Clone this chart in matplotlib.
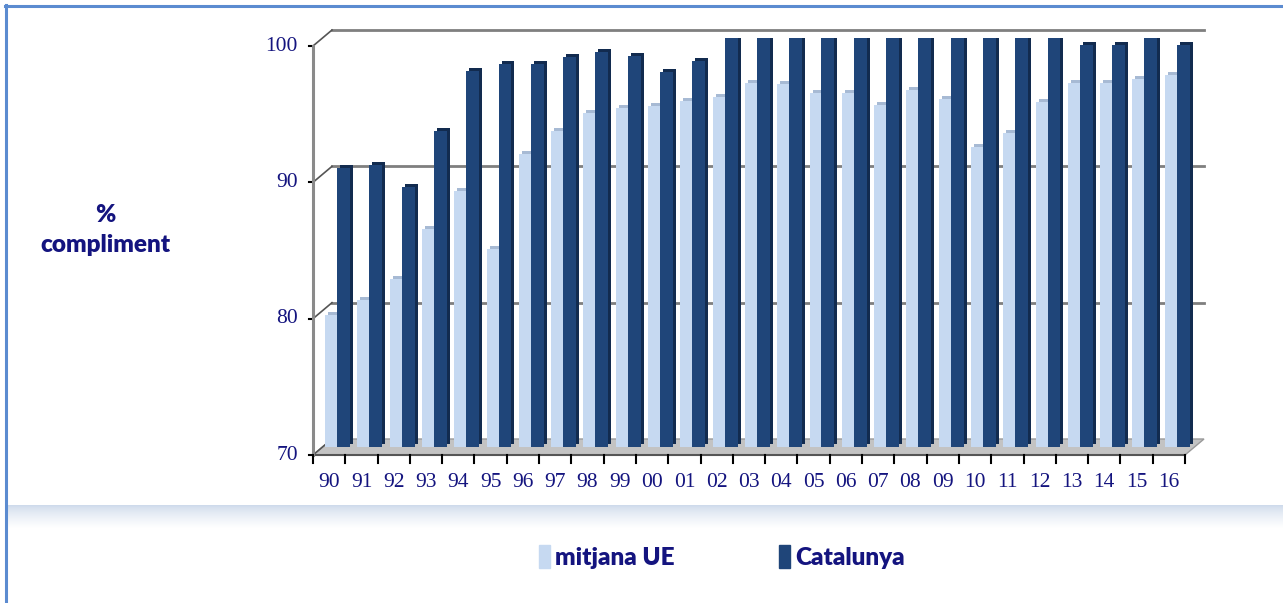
import matplotlib.pyplot as plt
import numpy as np
from matplotlib.patches import Patch, Polygon
from matplotlib.lines import Line2D

# data
years = ['90', '91', '92', '93', '94', '95', '96', '97', '98', '99', '00', '01', '02', '03',
         '04', '05', '06', '07', '08', '09', '10', '11', '12', '13', '14', '15', '16']
ue = [79.7, 80.8, 82.3, 86.0, 88.8, 84.5, 91.5, 93.2, 94.5, 94.9, 95.0, 95.4, 95.7, 96.7,
      96.6, 96.0, 96.0, 95.1, 96.2, 95.5, 92.0, 93.0, 95.3, 96.7, 96.7, 97.0, 97.3]
catalunya = [90.5, 90.7, 89.1, 93.2, 97.6, 98.1, 98.1, 98.6, 99.0, 98.7, 97.5, 98.3, 100, 100,
             100, 100, 100, 100, 100, 100, 100, 100, 100, 99.5, 99.5, 100, 99.5]
yticks = [70, 80, 90, 100]
series_names = ['mitjana UE', 'Catalunya']

light = '#c6d9f1'
light_side = '#a7bad4'
dark = '#1f4579'
dark_side = '#122b4f'
navy = '#14147f'
W, H = 1283, 603

fig = plt.figure(figsize=(W / 100, H / 100), dpi=100)

# the plane the bars stand in (pixels from top-left)
x0, x1, y0, y1 = 322.5, 1194.5, 447, 38
ax = fig.add_axes([x0 / W, 1 - y0 / H, (x1 - x0) / W, (y0 - y1) / H])
ax.set_xlim(-0.5, len(years) - 0.5)
ax.set_ylim(yticks[0], yticks[-1])
ax.set_axis_off()

ux = len(years) / (x1 - x0)
uy = (yticks[-1] - yticks[0]) / (y0 - y1)
hx, hy = 9.5 * ux, 8 * uy      # half depth of the box
dx, dy = 3 * ux, 3 * uy        # depth of a bar
xl, xr = -0.5, len(years) - 0.5
base = yticks[0]

# floor
floor = Polygon([(xl - hx, base - hy), (xr - hx, base - hy), (xr + hx, base + hy), (xl + hx, base + hy)],
                closed=True, facecolor='#c3c3c3', edgecolor='#9a9a9a', lw=1, clip_on=False, zorder=1)
ax.add_patch(floor)
ax.plot([xl - hx, xr - hx], [base - hy, base - hy], color='#555555', lw=1.5, clip_on=False, zorder=1)

# back wall grid and side wall diagonals
for v in yticks:
    if v > base:
        ax.plot([xl + hx, xr + hx], [v + hy, v + hy], color='#7f7f7f', lw=2, clip_on=False, zorder=1)
    ax.plot([xl - hx, xl + hx], [v - hy, v + hy], color='#555555', lw=1.2, clip_on=False, zorder=1)
    ax.plot([xl - hx - 4 * ux, xl - hx], [v - hy, v - hy], color='black', lw=1.5, clip_on=False, zorder=2)
    ax.text(xl - hx - 15 * ux, v - hy, str(v), ha='right', va='center', fontsize=15.5,
            family='Liberation Serif', color=navy)

# front vertical axis
ax.plot([xl - hx, xl - hx], [base - hy, yticks[-1] - hy], color='#8a8a8a', lw=2.2, clip_on=False, zorder=2)

# category ticks and labels on the front edge
for k in range(len(years) + 1):
    ax.plot([k - 0.5 - hx, k - 0.5 - hx], [base - hy, base - hy - 8 * uy], color='black', lw=1.5,
            clip_on=False, zorder=2)
for k, lab in enumerate(years):
    ax.text(k - hx, base - hy - 18 * uy, lab, ha='center', va='top', fontsize=15.5,
            family='Liberation Serif', color=navy)

# bars with a small depth
x = np.arange(len(years))
ue_h = np.array(ue) - base
cat_h = np.array(catalunya) - base
ax.bar(x - 0.22 + dx, ue_h, 0.40, bottom=base + dy, color=light_side, zorder=3)
ax.bar(x - 0.22, ue_h, 0.40, bottom=base, color=light, zorder=3)
ax.bar(x + 0.15 + dx, cat_h, 0.40, bottom=base + dy, color=dark_side, zorder=3)
ax.bar(x + 0.15, cat_h, 0.40, bottom=base, color=dark, zorder=3)

# y label
fig.text(105 / W, 1 - 230 / H, '%\ncompliment', ha='center', va='center', linespacing=1.45,
         fontsize=17.5, family='Lato', weight='heavy', color=navy)

# legend
handles = [Patch(color=light), Patch(color=dark)]
fig.legend(handles, series_names, loc='center', bbox_to_anchor=(722 / W, 1 - 557 / H), ncol=2,
           frameon=False, prop=dict(family='Lato', weight='heavy', size=17.5), labelcolor=navy,
           handlelength=0.45, handleheight=1.1, handletextpad=0.2, columnspacing=4.3)

# shaded band above the legend
gax = fig.add_axes([7 / W, 1 - 528 / H, 1 - 7 / W, 23 / H])
t = np.linspace(0, 1, 60)[:, None] ** 0.7
top = np.array([0.80, 0.85, 0.92])
grad = top[None, None, :] * (1 - t[:, :, None]) + t[:, :, None]
gax.imshow(grad, aspect='auto')
gax.set_axis_off()

# frame
fig.add_artist(Line2D([6 / W, 6 / W], [0, 1 - 5 / H], transform=fig.transFigure, color='#5b8bd0', lw=2.2))
fig.add_artist(Line2D([5 / W, 1], [1 - 6 / H, 1 - 6 / H], transform=fig.transFigure, color='#5b8bd0', lw=2.2))

fig.savefig('out.png', dpi=100)
